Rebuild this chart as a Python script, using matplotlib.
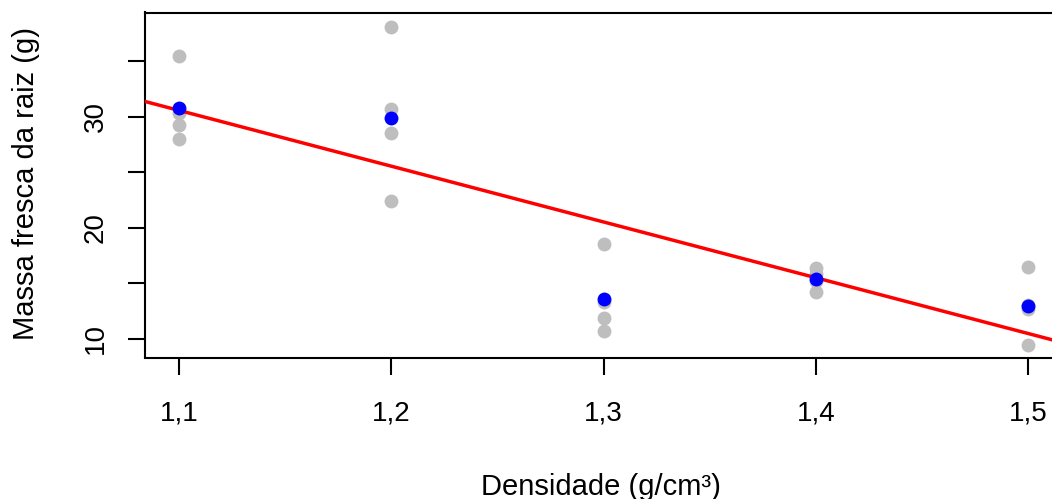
import numpy as np
import matplotlib
matplotlib.use("Agg")
import matplotlib.pyplot as plt

plt.rcParams["font.family"] = ["Liberation Sans", "DejaVu Sans"]

# densidade do solo (g/cm3) e massa fresca da raiz (g), 4 repeticoes
densidade = [1.1, 1.2, 1.3, 1.4, 1.5]
rep1 = [35.5, 38.1, 18.5, 16.4, 16.5]
rep2 = [30.3, 30.7, 13.3, 15.8, 13.0]
rep3 = [29.3, 28.5, 11.9, 15.2, 12.7]
rep4 = [28.0, 22.4, 10.7, 14.2, 9.4]
xtick_labels = ["1,1", "1,2", "1,3", "1,4", "1,5"]
ytick_major = [10, 20, 30]
ytick_minor = [15, 25, 35]

x_all = np.repeat(densidade, 4)
y_all = np.column_stack([rep1, rep2, rep3, rep4]).ravel()
medias = np.column_stack([rep1, rep2, rep3, rep4]).mean(axis=1)

# ajuste linear
b, a = np.polyfit(x_all, y_all, 1)

fig = plt.figure(figsize=(10.52, 4.99), dpi=100)
ax = fig.add_axes([145 / 1052, 1 - 357.5 / 499, (1062 - 145) / 1052, (357.5 - 12.5) / 499])

ax.scatter(x_all, y_all, s=100, color="#BEBEBE", linewidths=0, zorder=2)
ax.axline((0, a), slope=b, color="red", lw=2.5, zorder=3)
ax.scatter(densidade, medias, s=100, color="blue", linewidths=0, zorder=4)

ax.set_xlim(1.084, 1.516)
ax.set_ylim(8.3, 39.4)

for s in ax.spines.values():
    s.set_linewidth(1.5)

ax.set_xticks(densidade)
ax.set_xticklabels(xtick_labels)
ax.set_yticks(ytick_major + ytick_minor)
ax.set_yticklabels([str(v) for v in ytick_major] + ["", "", ""], rotation=90, va="center")
ax.tick_params(axis="both", length=12.2, width=1.5, labelsize=20)
ax.tick_params(axis="x", pad=19)
ax.tick_params(axis="y", pad=14)

fig.text(12 / 1052, 1 - 183 / 499, "Massa fresca da raiz (g)", rotation=90,
         ha="left", va="center", fontsize=21)
fig.text(601 / 1052, 1 - 495 / 499, "Densidade (g/cm³)", ha="center",
         va="baseline", fontsize=21)

fig.savefig("out.png", dpi=100)
